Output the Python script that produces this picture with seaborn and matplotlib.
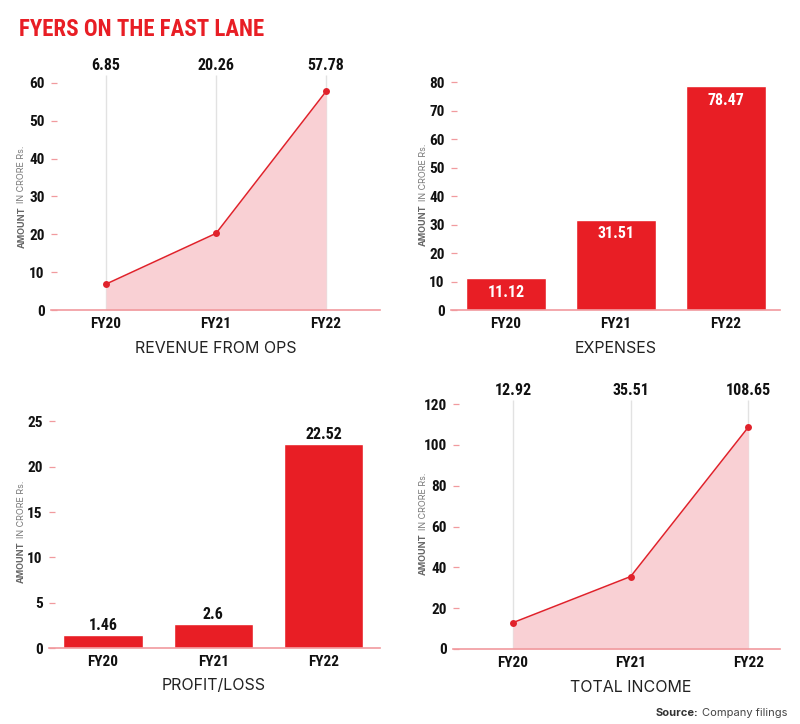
import matplotlib
matplotlib.use("Agg")
import matplotlib.pyplot as plt
import matplotlib.transforms as mtransforms
from matplotlib import font_manager
import seaborn as sns
import pandas as pd

# ---------------- data ----------------
years = ["FY20", "FY21", "FY22"]
revenue_ops = [6.85, 20.26, 57.78]
expenses = [11.12, 31.51, 78.47]
profit_loss = [1.46, 2.6, 22.52]
total_income = [12.92, 35.51, 108.65]
revenue_ticks = [0, 10, 20, 30, 40, 50, 60]
expense_ticks = [0, 10, 20, 30, 40, 50, 60, 70, 80]
profit_ticks = [0, 5, 10, 15, 20, 25]
income_ticks = [0, 20, 40, 60, 80, 100, 120]

sns.set_theme(style="white")
names = {f.name for f in font_manager.fontManager.ttflist}
cond = None
for cand in ["Roboto Condensed", "Open Sans Condensed", "Liberation Sans Narrow", "DejaVu Sans"]:
    if cand in names:
        cond = cand
        break
plain = "Inter" if "Inter" in names else "DejaVu Sans"
plt.rcParams["font.family"] = [plain, "DejaVu Sans"]

RED = "#E81E25"
LINE_RED = "#E0222B"
FILL = "#F9D0D4"
AXIS_PINK = "#F19A9E"
GRAY_LINE = "#E2E2E2"

W, H = 800, 724
fig = plt.figure(figsize=(W / 100, H / 100), dpi=100)
fig.patch.set_facecolor("white")


def px_axes(x0, x1, ytop, ybot):
    return fig.add_axes([x0 / W, 1 - ybot / H, (x1 - x0) / W, (ybot - ytop) / H])


def style(ax, ticks, xlim, ymax):
    ax.set_xlim(*xlim)
    ax.set_ylim(0, ymax)
    ax.set_yticks(ticks)
    ax.set_yticklabels([str(t) for t in ticks])
    for s in ["top", "right", "left"]:
        ax.spines[s].set_visible(False)
    ax.spines["bottom"].set_color(AXIS_PINK)
    ax.spines["bottom"].set_linewidth(1.2)
    ax.tick_params(axis="y", direction="in", length=4.5, width=0.9, color=AXIS_PINK, pad=4.5, left=True)
    ax.tick_params(axis="x", length=0, pad=5)
    for lab in ax.get_yticklabels() + ax.get_xticklabels():
        lab.set_fontfamily([cond, "DejaVu Sans"])
        lab.set_fontweight("bold")
        lab.set_fontsize(11)
        lab.set_color("#111111")
        if cond == "DejaVu Sans":
            lab.set_fontstretch("condensed")
    ax.set_xlabel("")
    ax.set_ylabel("")
    ax.grid(False)
    ax.set_facecolor("none")


def text_cond(ax, x, y, s, **kw):
    t = ax.text(x, y, s, fontfamily=[cond, "DejaVu Sans"], fontweight="bold", **kw)
    if cond == "DejaVu Sans":
        t.set_fontstretch("condensed")
    return t


def line_panel(ax, values, ticks, xlim, ymax):
    df = pd.DataFrame({"year": years, "value": values})
    xs = list(range(len(years)))
    ax.vlines(xs, 0, ymax, color=GRAY_LINE, linewidth=1, zorder=0)
    ax.fill_between(xs, 0, values, color=FILL, linewidth=0, zorder=1)
    sns.lineplot(data=df, x="year", y="value", ax=ax, color=LINE_RED, linewidth=1.1,
                 marker="o", markersize=5, markeredgewidth=0, zorder=3)
    style(ax, ticks, xlim, ymax)
    tr = mtransforms.blended_transform_factory(ax.transData, ax.transAxes)
    for x, v in zip(xs, values):
        t = text_cond(ax, x, 1.0, f"{v:g}", ha="center", va="bottom",
                      fontsize=11.5, color="#111111", clip_on=False)
        t.set_transform(tr + mtransforms.ScaledTranslation(0, 1.5 / 72, fig.dpi_scale_trans))


def bar_panel(ax, values, ticks, xlim, ymax, inside):
    df = pd.DataFrame({"year": years, "value": values})
    sns.barplot(data=df, x="year", y="value", ax=ax, color=RED, saturation=1, width=0.72, zorder=2)
    style(ax, ticks, xlim, ymax)
    for x, v in enumerate(values):
        if inside:
            t = text_cond(ax, x, v, f"{v:g}", ha="center", va="top", fontsize=11.5, color="white")
            t.set_transform(ax.transData + mtransforms.ScaledTranslation(0, -4.5 / 72, fig.dpi_scale_trans))
        else:
            t = text_cond(ax, x, v, f"{v:g}", ha="center", va="bottom", fontsize=11.5, color="#111111")
            t.set_transform(ax.transData + mtransforms.ScaledTranslation(0, 1.5 / 72, fig.dpi_scale_trans))


def panel_title(ax, title, xval):
    tr = mtransforms.blended_transform_factory(ax.transData, ax.transAxes)
    t = ax.text(xval, 0, title, ha="center", va="center", fontsize=11.5,
                color="#222222", fontfamily=[plain, "DejaVu Sans"])
    t.set_transform(tr + mtransforms.ScaledTranslation(0, -38 / 100, fig.dpi_scale_trans))


def ylabel(x_px, y_px_bottom):
    b = fig.text(x_px / W, 1 - y_px_bottom / H, "AMOUNT", rotation=90, rotation_mode="anchor",
                 ha="left", va="center", fontsize=6.5, fontweight="bold", color="#666666")
    fig.canvas.draw()
    bb = b.get_window_extent()
    fig.text(x_px / W, (bb.y1 + 3) / H, "IN CRORE Rs.", rotation=90, rotation_mode="anchor",
             ha="left", va="center", fontsize=6.5, color="#777777")


# Panel 1: revenue from ops
ax1 = px_axes(51, 380, 75, 310)
line_panel(ax1, revenue_ops, revenue_ticks, (-0.5, 2.49), 62.1)
panel_title(ax1, "REVENUE FROM OPS", 1)

# Panel 2: expenses
ax2 = px_axes(451, 780, 75, 310)
bar_panel(ax2, expenses, expense_ticks, (-0.5, 2.49), 82.5, True)
panel_title(ax2, "EXPENSES", 1)

# Panel 3: profit/loss
ax3 = px_axes(49, 380, 415, 648)
bar_panel(ax3, profit_loss, profit_ticks, (-0.49, 2.51), 25.7, False)
panel_title(ax3, "PROFIT/LOSS", 1)

# Panel 4: total income
ax4 = px_axes(453, 780, 400, 649)
line_panel(ax4, total_income, income_ticks, (-0.51, 2.27), 122.0)
panel_title(ax4, "TOTAL INCOME", 1)

# Title
t = fig.text(19 / W, 1 - 30 / H, "FYERS ON THE FAST LANE", ha="left", va="center",
             fontsize=16.5, fontweight="bold", color=RED, fontfamily=[cond, "DejaVu Sans"])
if cond == "DejaVu Sans":
    t.set_fontstretch("condensed")

ylabel(22, 248)
ylabel(423, 246)
ylabel(21, 583)
ylabel(423, 575)

# Source
s2 = fig.text(787 / W, 1 - 713 / H, "Company filings", ha="right", va="center", fontsize=8, color="#444444")
fig.canvas.draw()
bb = s2.get_window_extent()
fig.text((bb.x0 - 3) / W, 1 - 713 / H, "Source:", ha="right", va="center", fontsize=8,
         fontweight="bold", color="#333333")

fig.savefig("out.png", dpi=100)
